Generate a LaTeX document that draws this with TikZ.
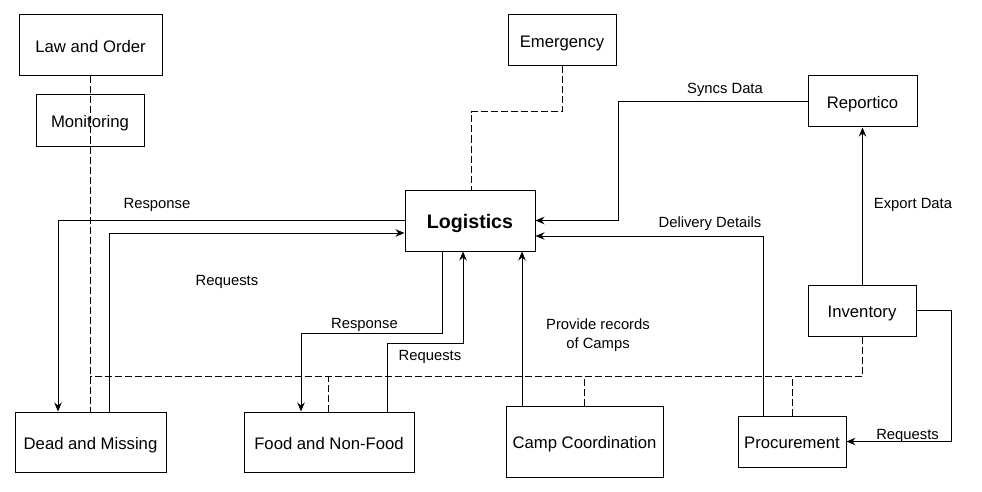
\documentclass[tikz,border=0pt]{standalone}
\usepackage{fontspec}
\setmainfont{Liberation Sans}
\usetikzlibrary{arrows.meta}
\begin{document}
\begin{tikzpicture}[x=1pt,y=-1pt,
 box/.style={draw,line width=1pt,inner sep=0pt,text height=14.2pt,text depth=0pt,font=\fontsize{16.7}{20}\selectfont},
 lbl/.style={inner sep=0pt,yshift=-2pt,font=\fontsize{14.8}{19}\selectfont},
 conn/.style={line width=1pt,-{Stealth[length=9pt,width=7.5pt,inset=3pt]}},
 dsh/.style={line width=1pt,dash pattern=on 7pt off 3pt}]
\useasboundingbox (0,0) rectangle (982,492);
\fill[white] (0,0) rectangle (982,492);
% boxes
\node[box,minimum width=143pt,minimum height=61pt] (law) at (90.5,45.5) {Law and Order};
\node[box,minimum width=108pt,minimum height=51pt] (mon) at (90,120.5) {Monitoring};
\node[box,minimum width=108pt,minimum height=51pt] (emer) at (562,40.5) {Emergency};
\node[box,minimum width=109pt,minimum height=51pt] (rep) at (862.5,101.5) {Reportico};
\node[box,minimum width=130pt,minimum height=61pt,text height=16.8pt,font=\fontsize{19.6}{23}\selectfont\bfseries] (logi) at (470,220.5) {Logistics};
\node[box,minimum width=108pt,minimum height=51pt] (inv) at (862,310.5) {Inventory};
\node[box,minimum width=151pt,minimum height=60pt] (dead) at (90.5,442) {Dead and Missing};
\node[box,minimum width=170pt,minimum height=60pt] (food) at (329,442) {Food and Non-Food};
\node[box,minimum width=157pt,minimum height=71pt] (camp) at (584.5,441.5) {Camp Coordination};
\node[box,minimum width=108pt,minimum height=51pt] (proc) at (792,441.5) {Procurement};
% dashed links
\coordinate (busL) at (90,376);
\draw[dsh] ([xshift=-0.5pt]law.south) -- ([xshift=-0.5pt]dead.north);
\draw[dsh] (emer.south) -- (562,112) -| ([xshift=1pt]logi.north);
\draw[dsh] (inv.south) |- (busL);
\draw[dsh] ([xshift=-1pt]food.north) -- ([xshift=-1pt]food.north |- busL);
\draw[dsh] ([xshift=-0.5pt]camp.north) -- ([xshift=-0.5pt]camp.north |- busL);
\draw[dsh] (proc.north) -- (proc.north |- busL);
% solid connectors
\draw[conn] ([yshift=0.5pt]logi.west) -| ([xshift=-32.5pt]dead.north);
\draw[conn] ([xshift=18.5pt]dead.north) |- ([yshift=-12.5pt]logi.west);
\draw[conn] ([xshift=-28pt]logi.south) -- ++(0,82) -| ([xshift=-28pt]food.north);
\draw[conn] ([xshift=58pt]food.north) -- ++(0,-68) -| ([xshift=-7pt]logi.south);
\draw[conn] ([xshift=-62.5pt]camp.north) -- ([xshift=-62.5pt]camp.north |- logi.south);
\draw[conn] (rep.west) -- (618,101.5) |- (logi.east);
\draw[conn] ([xshift=-29pt]proc.north) |- ([yshift=-15.5pt]logi.east);
\draw[conn] ([xshift=0.5pt]inv.north) -- ([xshift=0.5pt]inv.north |- rep.south);
\draw[conn] (inv.east) -- ++(35,0) |- (proc.east);
% labels
\node[lbl] (t1) at (157,203) {Response};
\node[lbl] (t2) at (227,280) {Requests};
\node[lbl] (t3) at (364.5,323) {Response};
\node[lbl] (t4) at (430,354.5) {Requests};
\node[lbl,align=center] (t5) at (598,333.5) {Provide records\\of Camps};
\node[lbl] (t6) at (725,88) {Syncs Data};
\node[lbl] (t7) at (710,222) {Delivery Details};
\node[lbl] (t8) at (913,203) {Export Data};
\node[lbl] (t9) at (907.5,433.5) {Requests};
\end{tikzpicture}
\end{document}
